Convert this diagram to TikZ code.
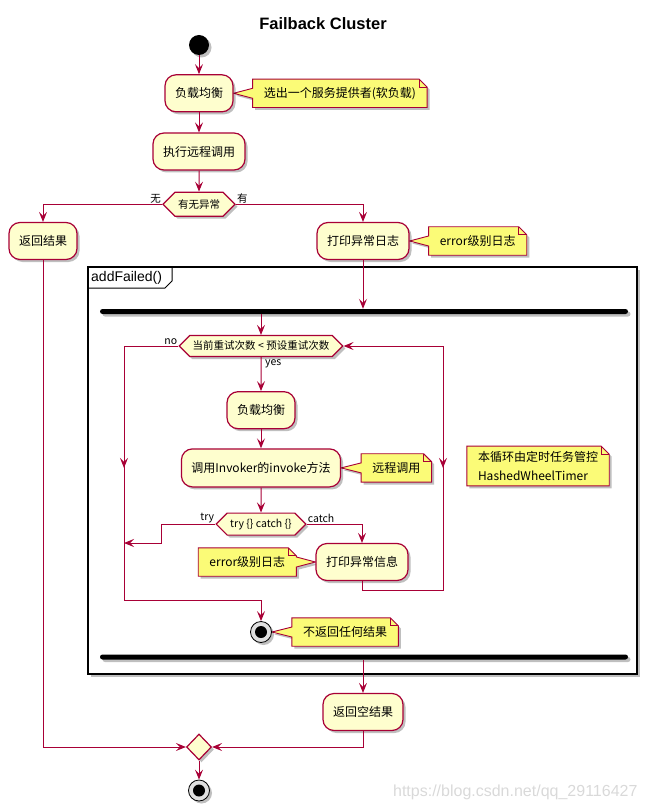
\documentclass[tikz,border=0pt]{standalone}
\usepackage{fontspec}
\setmainfont{Noto Sans CJK SC}
\newfontfamily\arialfont{Liberation Sans}
\usetikzlibrary{
arrows.meta,
positioning,
calc,
shapes.symbols,
shapes.geometric,
shadows,
backgrounds
}
\definecolor{umlred}{HTML}{A80036}
\definecolor{actfill}{HTML}{FEFECE}
\definecolor{notefill}{HTML}{FBFB77}
% note right of its target, wedge on the west side
\newcommand{\notetoleft}[2]{%
  \draw[notebox] (#1.north west) -- ($(#1.north east)+(-8pt,0)$) -- ($(#1.north east)+(0,-8pt)$)
    -- (#1.south east) -- (#1.south west) -- ($(#1.west)+(0,-5pt)$) -- (#2) -- ($(#1.west)+(0,5pt)$) -- cycle;
  \draw[umlred, line width=0.9pt] ($(#1.north east)+(-8pt,0)$) |- ($(#1.north east)+(0,-8pt)$);}
% note left of its target, wedge on the east side
\newcommand{\notetoright}[2]{%
  \draw[notebox] (#1.north west) -- ($(#1.north east)+(-8pt,0)$) -- ($(#1.north east)+(0,-8pt)$)
    -- ($(#1.east)+(0,5pt)$) -- (#2) -- ($(#1.east)+(0,-5pt)$) -- (#1.south east) -- (#1.south west) -- cycle;
  \draw[umlred, line width=0.9pt] ($(#1.north east)+(-8pt,0)$) |- ($(#1.north east)+(0,-8pt)$);}
% note on its own
\newcommand{\noteplain}[1]{%
  \draw[notebox] (#1.north west) -- ($(#1.north east)+(-8pt,0)$) -- ($(#1.north east)+(0,-8pt)$)
    -- (#1.south east) -- (#1.south west) -- cycle;
  \draw[umlred, line width=0.9pt] ($(#1.north east)+(-8pt,0)$) |- ($(#1.north east)+(0,-8pt)$);}

\begin{document}
\begin{tikzpicture}[
    x=1pt, y=-1pt,
    umlshadow/.style={drop shadow={shadow xshift=2.5pt, shadow yshift=-2.5pt, opacity=0.25, fill=black}},
    act/.style={draw=umlred, fill=actfill, line width=1.2pt, rounded corners=11pt,
      minimum height=37pt, inner xsep=10pt, font=\fontsize{12}{14}\selectfont, umlshadow},
    decide/.style={signal, signal to=west and east, signal pointer angle=90, draw=umlred,
      fill=actfill, line width=1.2pt, inner xsep=3pt, inner ysep=0pt, minimum height=22pt,
      font=\fontsize{10.5}{12}\selectfont, umlshadow},
    note/.style={minimum height=28pt, inner xsep=11pt, font=\fontsize{12}{14}\selectfont},
    notebox/.style={draw=umlred, fill=notefill, line width=0.9pt, umlshadow},
    startnode/.style={circle, fill=black, minimum size=20pt, inner sep=0pt, umlshadow},
    stopnode/.style={circle, draw=black, fill=black!12, line width=0.8pt, minimum size=21pt,
      inner sep=0pt, umlshadow,
      path picture={\fill[black] (path picture bounding box.center) circle (6pt);}},
    forkbar/.style={fill=black, rounded corners=2.5pt, minimum width=528pt, minimum height=5pt,
      inner sep=0pt, umlshadow},
    merge/.style={diamond, draw=umlred, fill=actfill, line width=1.2pt, minimum width=25pt,
      minimum height=26pt, inner sep=0pt, umlshadow},
    flow/.style={draw=umlred, line width=1pt, -{Stealth[length=10pt, width=8pt, inset=4pt]}},
    guard/.style={font=\fontsize{10.5}{12}\selectfont, inner sep=1pt}]
  \useasboundingbox (0,0) rectangle (648,810);
  \node[font=\arialfont\bfseries\fontsize{16.5}{19}\selectfont] (title) at (323,24) {Failback Cluster};

  % outer flow
  \node[startnode] (start) at (199,45) {};
  \node[act, below=19pt of start] (act1) {负载均衡};
  \node[act, below=20pt of act1] (act2) {执行远程调用};
  \node[decide, minimum height=24pt, below=21pt of act2] (dec1) {有无异常};
  \node[guard, anchor=south east] (lbl1) at (dec1.west) {无};
  \node[guard, anchor=south west] (lbl2) at (dec1.east) {有};
  \node[act] (ret1) at (43,241) {返回结果};
  \node[act] (log1) at (363,241) {打印异常日志};
  \node[note, right=19pt of act1] (n1) {选出一个服务提供者(软负载)};
  \node[note, right=19pt of log1] (n2) {error级别日志};

  % addFailed() frame
  \begin{pgfonlayer}{background}
    \draw[black, line width=1.4pt, fill=white, umlshadow] (88,267) rectangle (637,674);
  \end{pgfonlayer}
  \draw[black, line width=1pt] (88,288) -- (165,288) -- (172,281) -- (172,267);
  \node[anchor=west, font=\arialfont\fontsize{14}{16}\selectfont, inner sep=2pt] (tab) at (89,278) {addFailed()};
  \node[forkbar] (fork) at (364,311.5) {};
  \node[forkbar] (join) at (364,657) {};

  % retry loop
  \node[decide, minimum height=21pt] (dec2) at (261,346) {当前重试次数 < 预设重试次数};
  \node[guard, anchor=south east] (lblno) at (dec2.west) {no};
  \node[guard, anchor=north west] (lblyes) at ($(dec2.south)+(3pt,-1pt)$) {yes};
  \node[act, below=34pt of dec2] (act3) {负载均衡};
  \node[act, minimum height=38pt, below=19pt of act3] (act4) {调用Invoker的invoke方法};
  \node[decide, below=25pt of act4] (dec3) {try \{\} catch \{\}};
  \node[guard, anchor=south east] (lbltry) at (dec3.west) {try};
  \node[guard, anchor=south west] (lblcatch) at (dec3.east) {catch};
  \node[act] (act5) at (362,562) {打印异常信息};
  \node[stopnode] (stop1) at (261,632) {};
  \node[note, right=20pt of act4] (n3) {远程调用};
  \node[note, left=19pt of act5] (n4) {error级别日志};
  \node[note, right=20pt of stop1] (n5) {不返回任何结果};
  \node[note, align=left, inner ysep=5pt, font=\fontsize{12}{19}\selectfont] (n6) at (538,466)
    {本循环由定时任务管控\\HashedWheelTimer};
  \coordinate (lx) at (124,600);
  \coordinate (tryknee) at (161,543);
  \coordinate (rx) at (443,590);

  % after the frame
  \node[act] (act6) at (363,712) {返回空结果};
  \node[merge] (mrg) at (199,747) {};
  \node[stopnode, below=19pt of mrg] (stop2) {};
  \node[anchor=east, text=black!15, font=\arialfont\fontsize{16}{18}\selectfont] (mark) at (641,792)
    {https://blog.csdn.net/qq\_29116427};

  \begin{pgfonlayer}{background}
    \notetoleft{n1}{act1.east}
    \notetoleft{n2}{log1.east}
    \notetoleft{n3}{act4.east}
    \notetoright{n4}{act5.west}
    \notetoleft{n5}{stop1.east}
    \noteplain{n6}
  \end{pgfonlayer}

  \draw[flow] (start) -- (act1);
  \draw[flow] (act1) -- (act2);
  \draw[flow] (act2) -- (dec1);
  \draw[flow] (dec1.west) -| (ret1.north);
  \draw[flow] (dec1.east) -| (log1.north);
  \draw[flow] (log1.south) -- (log1.south |- fork.north);
  \draw[flow] (dec2.north |- fork.south) -- (dec2.north);
  \draw[flow] (dec2) -- (act3);
  \draw[flow] (act3) -- (act4);
  \draw[flow] (act4) -- (dec3);
  \draw[flow] (dec2.west) -| (lx) -| (stop1.north);
  \draw[flow] (dec2.west -| lx) -- (lx |- act4.center);
  \draw[flow] (dec3.west) -| (tryknee) -- (tryknee -| lx);
  \draw[flow] (dec3.east) -| (act5.north);
  \draw[flow] (act5.south) |- (rx) |- (dec2.east);
  \draw[flow] (rx |- dec2.east) -- (rx |- act4.center);
  \draw[flow] (act6.north |- join.south) -- (act6.north);
  \draw[flow] (ret1.south) |- (mrg.west);
  \draw[flow] (act6.south) |- (mrg.east);
  \draw[flow] (mrg) -- (stop2);
\end{tikzpicture}
\end{document}
